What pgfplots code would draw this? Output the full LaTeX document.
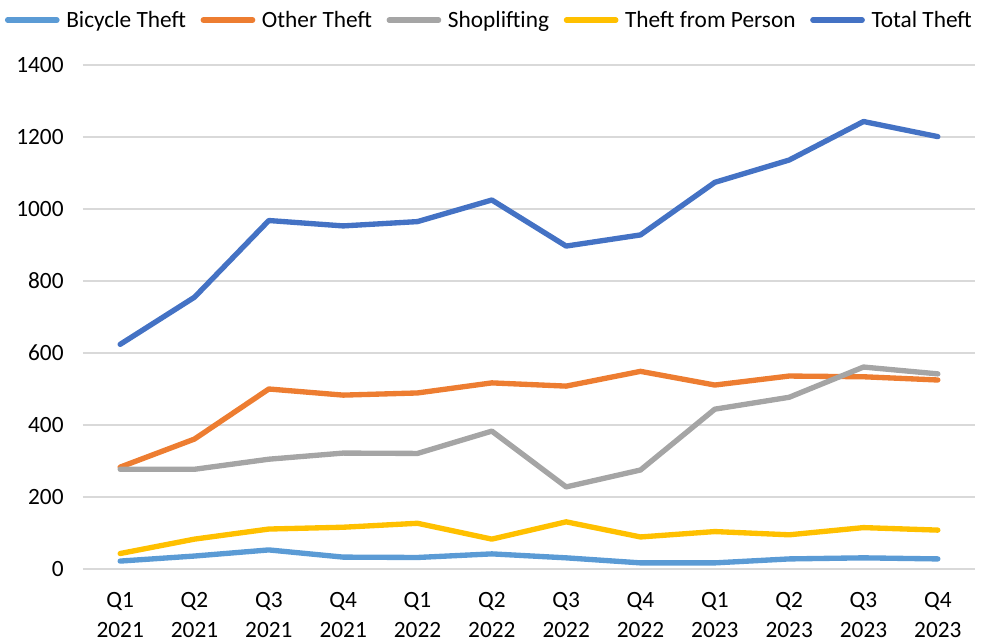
\documentclass[border=0pt]{standalone}
\usepackage{pgfplots}
\pgfplotsset{compat=1.18}
\usepackage{fontspec}
\setmainfont{Carlito}
\definecolor{cbike}{HTML}{5B9BD5}
\definecolor{cother}{HTML}{ED7D31}
\definecolor{cshop}{HTML}{A5A5A5}
\definecolor{cperson}{HTML}{FFC000}
\definecolor{ctotal}{HTML}{4472C4}
\begin{document}
\begin{tikzpicture}
\useasboundingbox (-62.25pt,-54.75pt) rectangle (673.5pt,426.75pt);
\begin{axis}[
  at={(0,0)}, anchor=south west,
  scale only axis,
  width=669pt, height=378pt,
  xmin=-0.5, xmax=11.5,
  ymin=0, ymax=1400,
  ytick={0,200,...,1400},
  xtick={0,...,11},
  xticklabels={{Q1\\2021},{Q2\\2021},{Q3\\2021},{Q4\\2021},{Q1\\2022},{Q2\\2022},{Q3\\2022},{Q4\\2022},{Q1\\2023},{Q2\\2023},{Q3\\2023},{Q4\\2023}},
  xticklabel style={align=center, yshift=-14pt},
  yticklabel style={xshift=-11pt},
  tick label style={font=\fontsize{17.5}{22.5}\selectfont},
  /pgf/number format/assume math mode=true,
  /pgf/number format/1000 sep={},
  major tick length=0pt,
  axis line style={draw=none},
  ymajorgrids,
  grid style={draw=black!15, line width=1.3pt},
  legend style={at={(0.456,1.089)}, anchor=center, draw=none, legend columns=-1,
    font=\fontsize{17.5}{21}\selectfont, inner sep=0pt,
    /tikz/every odd column/.append style={column sep=3pt},
    /tikz/every even column/.append style={column sep=9pt}},
  legend image code/.code={\draw[#1, line width=4pt, line cap=round] (0pt,0pt) -- (37pt,0pt);},
  every axis plot/.append style={line width=4pt, line cap=round, line join=round, mark=none},
  clip=false,
]
\addplot[cbike] coordinates {(0,22) (1,36) (2,53) (3,33) (4,32) (5,42) (6,31) (7,17) (8,17) (9,28) (10,31) (11,28)};
\addlegendentry{Bicycle Theft}
\addplot[cother] coordinates {(0,283) (1,361) (2,500) (3,483) (4,489) (5,517) (6,508) (7,549) (8,511) (9,536) (10,534) (11,525)};
\addlegendentry{Other Theft}
\addplot[cshop] coordinates {(0,277) (1,277) (2,305) (3,322) (4,321) (5,383) (6,228) (7,275) (8,444) (9,477) (10,561) (11,542)};
\addlegendentry{Shoplifting}
\addplot[cperson] coordinates {(0,43) (1,83) (2,111) (3,116) (4,127) (5,83) (6,131) (7,89) (8,104) (9,95) (10,115) (11,108)};
\addlegendentry{Theft from Person}
\addplot[ctotal] coordinates {(0,624) (1,755) (2,968) (3,953) (4,965) (5,1025) (6,897) (7,928) (8,1074) (9,1136) (10,1243) (11,1201)};
\addlegendentry{Total Theft}
\end{axis}
\end{tikzpicture}
\end{document}
